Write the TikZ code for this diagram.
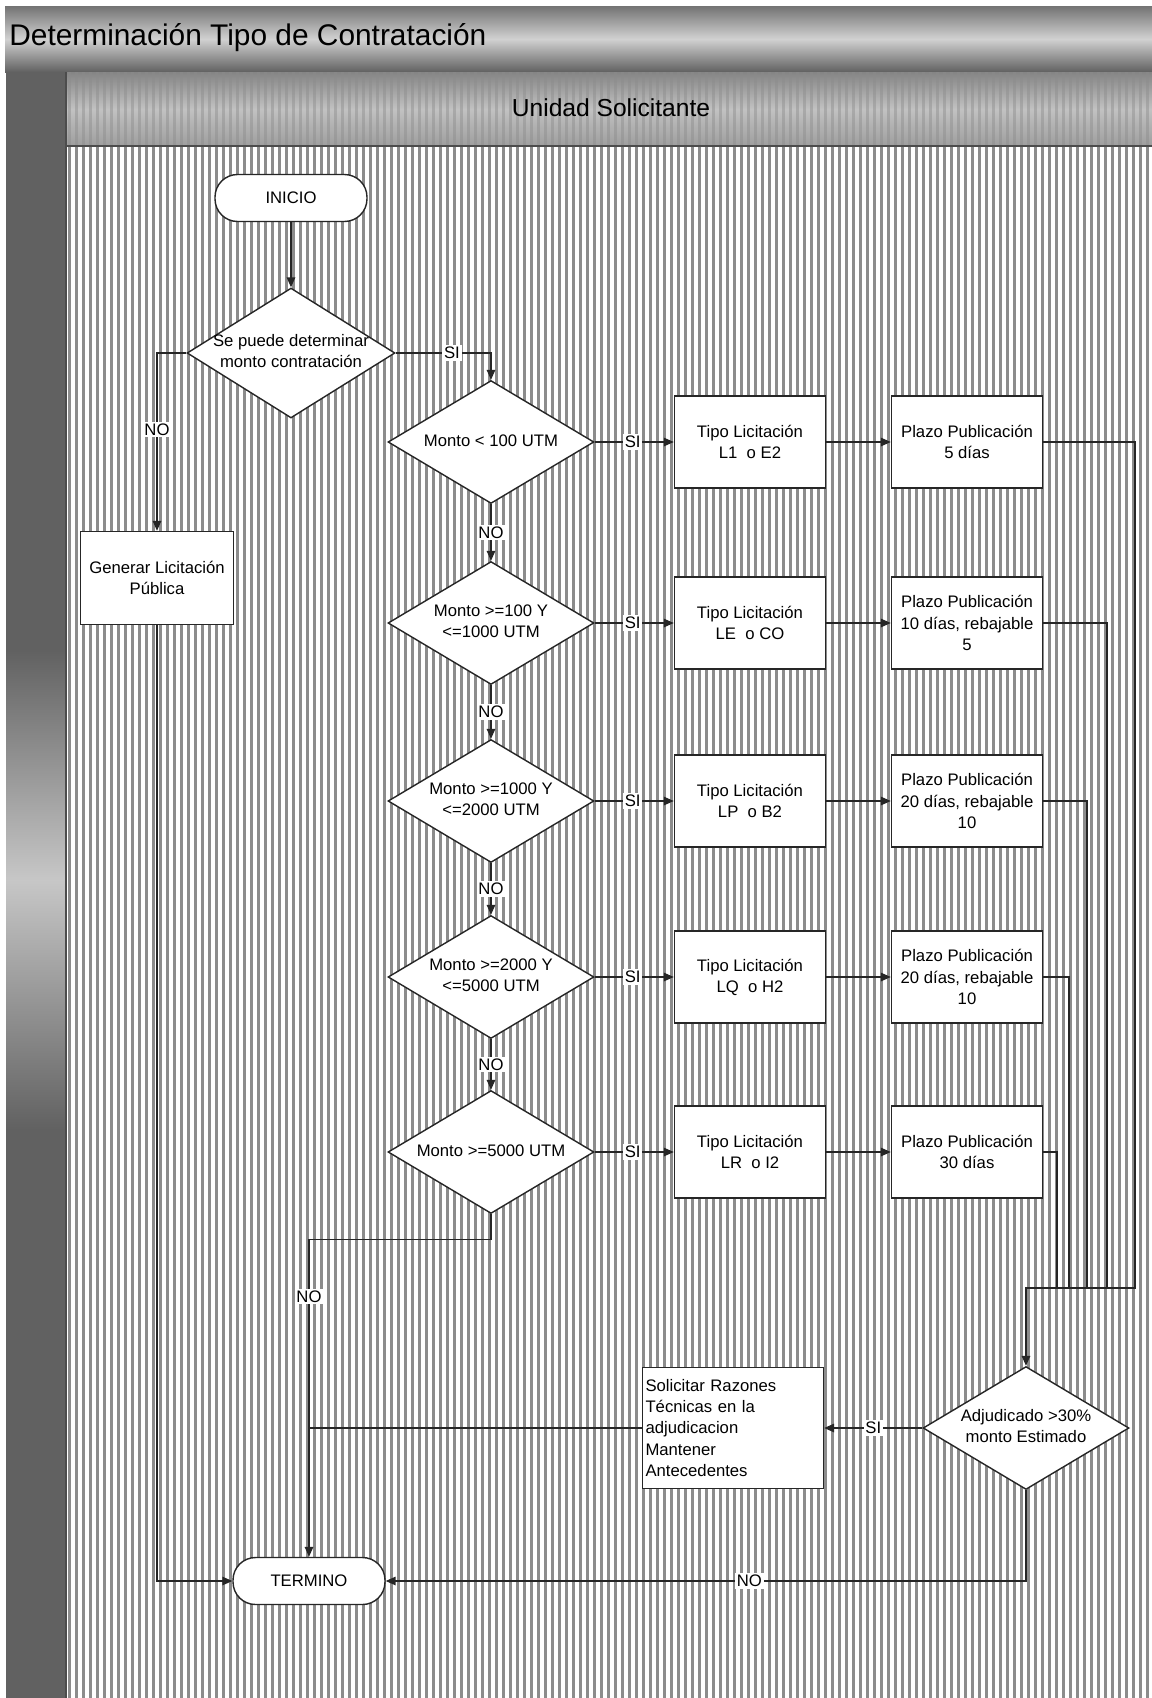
\documentclass[tikz,border=0pt]{standalone}
\usepackage{fontspec}
\setmainfont{Liberation Sans}
\usetikzlibrary{shapes.geometric,arrows.meta}
% centred multi-line text of zero width, so that a diamond keeps its given size
\newcommand{\dtxt}[1]{\makebox[0pt]{\begin{tabular}{@{}c@{}}#1\end{tabular}}}
\begin{document}
\begin{tikzpicture}[x=0.02cm,y=-0.02cm,
  txt/.style={font=\fontsize{9.5}{12}\selectfont},
  shp/.style={txt, fill=white, draw=black!85, line width=0.8pt},
  termbox/.style={shp, rectangle, rounded corners=0.45cm, minimum width=3.04cm, minimum height=0.94cm},
  procbox/.style={shp, rectangle, align=center, minimum width=3.02cm, minimum height=1.84cm, inner sep=1pt},
  decbox/.style={shp, diamond, inner sep=0pt, minimum width=4.12cm, minimum height=2.46cm},
  conn/.style={draw=black!85, line width=0.8pt},
  arr/.style={conn, -{Triangle[length=0.2cm,width=0.17cm]}},
  lbl/.style={txt, fill=white, inner sep=1pt},
]
\useasboundingbox (0,0) rectangle (1152,1698);
\fill[white] (0,0) rectangle (1152,1698);

% ---- title bar
\shade[top color=black!55, bottom color=black!62, middle color=black!18] (5,6) rectangle (1152,72);
\node[anchor=base west, font=\fontsize{17}{20}\selectfont, inner sep=0pt] (title) at (9,45) {Determinación Tipo de Contratación};

% ---- left band
\fill[black!62] (6,72) rectangle (66,1698);
\shade[top color=black!62, bottom color=black!22] (6,650) rectangle (66,880);
\shade[top color=black!22, bottom color=black!62] (6,880) rectangle (66,1130);

% ---- lane header
\shade[top color=black!48, bottom color=black!38, middle color=black!24] (66,72) rectangle (1152,146);
\begin{scope}
  \clip (66,72) rectangle (1152,146);
  \foreach \i in {0,...,155} \fill[black!45, opacity=0.45] ({68+7*\i},72) rectangle ++(2.5,74);
\end{scope}
\node[anchor=base, font=\fontsize{14}{17}\selectfont, inner sep=0pt] (lane) at (611,116) {Unidad Solicitante};

% ---- lane body (striped)
\begin{scope}
  \clip (66,146) rectangle (1152,1698);
  \foreach \i in {0,...,155} \fill[black!45] ({68+7*\i},146) rectangle ++(3,1552);
\end{scope}
\draw[black!70, line width=1pt] (66,72) -- (66,1698);
\draw[black!70, line width=1pt] (66,146) -- (1152,146);

% ---- start and first decision
\node[termbox] (ini) at (291,198) {INICIO};
\node[decbox, minimum width=4.16cm, minimum height=2.6cm] (d1) at (291,353) {\dtxt{Se puede determinar\\monto contratación}};
\node[procbox, minimum width=3.06cm, minimum height=1.86cm] (gen) at (157,578) {Generar Licitación\\Pública};

% ---- amount checks
\node[decbox] (m1) at (491,442) {\dtxt{Monto < 100 UTM}};
\node[procbox] (t1) at (750,442) {Tipo Licitación\\L1\ \ o E2};
\node[procbox] (p1) at (967,442) {Plazo Publicación\\5 días};

\node[decbox] (m2) at (491,623) {\dtxt{Monto >=100 Y\\<=1000 UTM}};
\node[procbox] (t2) at (750,623) {Tipo Licitación\\LE\ \ o CO};
\node[procbox] (p2) at (967,623) {Plazo Publicación\\10 días, rebajable\\5};

\node[decbox] (m3) at (491,801) {\dtxt{Monto >=1000 Y\\<=2000 UTM}};
\node[procbox] (t3) at (750,801) {Tipo Licitación\\LP\ \ o B2};
\node[procbox] (p3) at (967,801) {Plazo Publicación\\20 días, rebajable\\10};

\node[decbox] (m4) at (491,977) {\dtxt{Monto >=2000 Y\\<=5000 UTM}};
\node[procbox] (t4) at (750,977) {Tipo Licitación\\LQ\ \ o H2};
\node[procbox] (p4) at (967,977) {Plazo Publicación\\20 días, rebajable\\10};

\node[decbox] (m5) at (491,1152) {\dtxt{Monto >=5000 UTM}};
\node[procbox] (t5) at (750,1152) {Tipo Licitación\\LR\ \ o I2};
\node[procbox] (p5) at (967,1152) {Plazo Publicación\\30 días};

% ---- award check and end
\node[decbox] (d7) at (1026,1428) {\dtxt{Adjudicado >30\%\\monto Estimado}};
\node[shp, rectangle, align=left, text width=3.5cm, inner sep=0.06cm, minimum height=2.42cm] (sol) at (733,1428)
  {Solicitar Razones\\Técnicas en la\\adjudicacion\\Mantener\\Antecedentes};
\node[termbox] (fin) at (309,1581) {TERMINO};

% ---- connectors
\draw[arr] (ini) -- (d1);
\draw[arr] (d1.east) -| node[lbl, pos=0.295] {SI} (m1.north);
\draw[arr] (d1.west) -| node[lbl, pos=0.715] {NO} (gen.north);

\foreach \k in {1,...,5} {
  \draw[arr] (m\k.east) -- node[lbl, pos=0.48] {SI} (t\k.west);
  \draw[arr] (t\k) -- (p\k);
}
\foreach \a/\b in {1/2,2/3,3/4,4/5}
  \draw[arr] (m\a.south) -- node[lbl] {NO} (m\b.north);

\draw[arr] (m5.south) -- ++(0,25) -| node[lbl, pos=0.59] {NO} (fin.north);

\coordinate (c1) at (1135,1288);
\coordinate (c2) at (1107,1288);
\coordinate (c3) at (1087,1288);
\coordinate (c4) at (1069,1288);
\coordinate (c5) at (1057,1288);
\coordinate (mrg) at (1026,1288);
\draw[arr] (p1.east) -| (c1) -- (mrg) -- (d7.north);
\draw[conn] (p2.east) -| (c2);
\draw[conn] (p3.east) -| (c3);
\draw[conn] (p4.east) -| (c4);
\draw[conn] (p5.east) -| (c5);

\draw[arr] (d7.west) -- node[lbl] {SI} (sol.east);
\draw[conn] (sol.west) -- (sol.west -| fin.north);
\draw[arr] (d7.south) |- node[lbl, pos=0.716] {NO} (fin.east);
\draw[arr] (gen.south) |- (fin.west);
\end{tikzpicture}
\end{document}
